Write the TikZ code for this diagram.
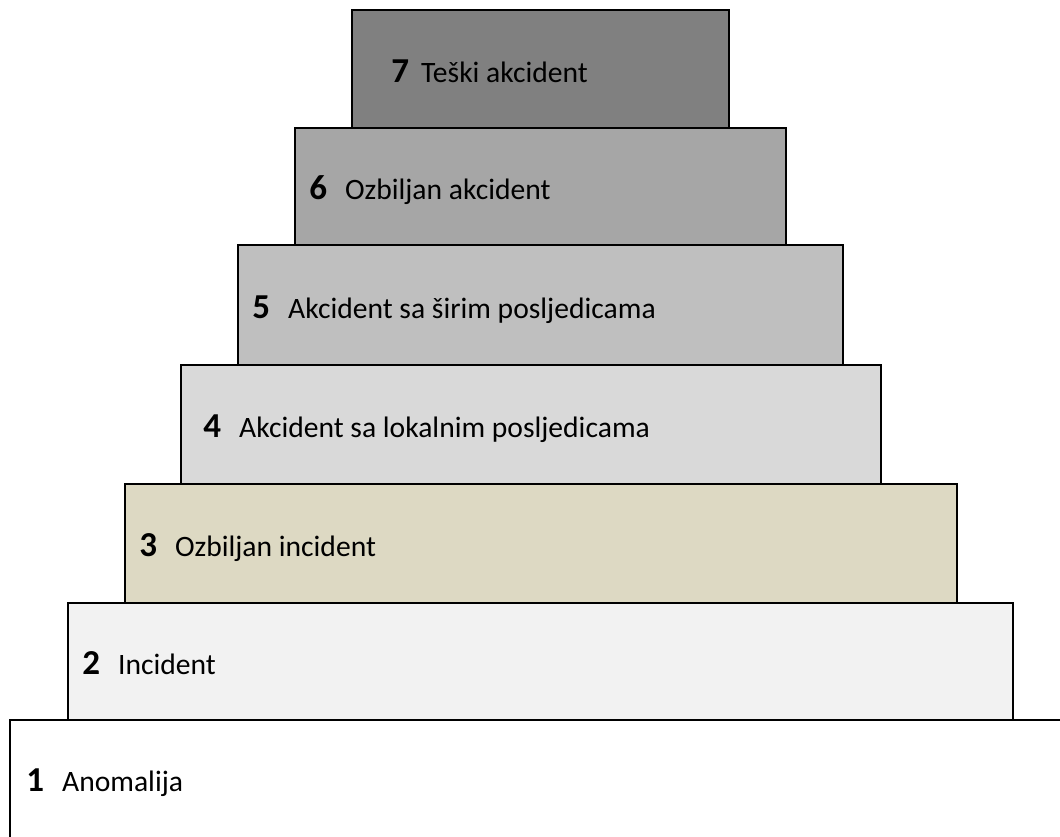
\documentclass[tikz,border=0pt]{standalone}
\usepackage{fontspec}
\setmainfont{Carlito}
\definecolor{lvlseven}{HTML}{808080}
\definecolor{lvlsix}{HTML}{A6A6A6}
\definecolor{lvlfive}{HTML}{BFBFBF}
\definecolor{lvlfour}{HTML}{D9D9D9}
\definecolor{lvlthree}{HTML}{DDD9C3}
\definecolor{lvltwo}{HTML}{F2F2F2}
\newcommand{\lvlnum}[1]{{\fontsize{17.5}{20}\selectfont\bfseries #1}}
\begin{document}
\begin{tikzpicture}[x=0.5pt,y=-0.5pt,
  levelbox/.style={draw=black,line width=1pt,inner sep=0pt,outer sep=0pt,anchor=north west},
  levellbl/.style={anchor=base west,inner sep=0pt,font=\fontsize{14.8}{17}\selectfont}]
\useasboundingbox(0,0)rectangle(1060,836);
\clip(0,0)rectangle(1060,836);
\foreach \k/\xl/\yt/\xr/\yb/\col/\dx/\by/\gap/\txt in {
  1/10/720/1080/860/white/16/791/9pt/Anomalija,
  2/68/603/1013/720/lvltwo/14/674/9pt/Incident,
  3/125/484/957/603/lvlthree/14/556/9pt/Ozbiljan incident,
  4/181/365/881/484/lvlfour/22/437/9pt/Akcident sa lokalnim posljedicama,
  5/238/245/843/365/lvlfive/14/318/9pt/Akcident sa širim posljedicama,
  6/295/128/786/245/lvlsix/14/199/9pt/Ozbiljan akcident,
  7/352/10/729/128/lvlseven/39/82/6pt/Teški akcident}{
  \pgfmathsetmacro{\bw}{(\xr-\xl)*0.5}
  \pgfmathsetmacro{\bh}{(\yb-\yt)*0.5}
  \node[levelbox,fill=\col,minimum width=\bw pt,minimum height=\bh pt](box\k)at(\xl,\yt){};
  \node[levellbl](lbl\k)at(\xl+\dx,\by){\lvlnum{\k}\hspace{\gap}\txt};
}
\end{tikzpicture}
\end{document}
